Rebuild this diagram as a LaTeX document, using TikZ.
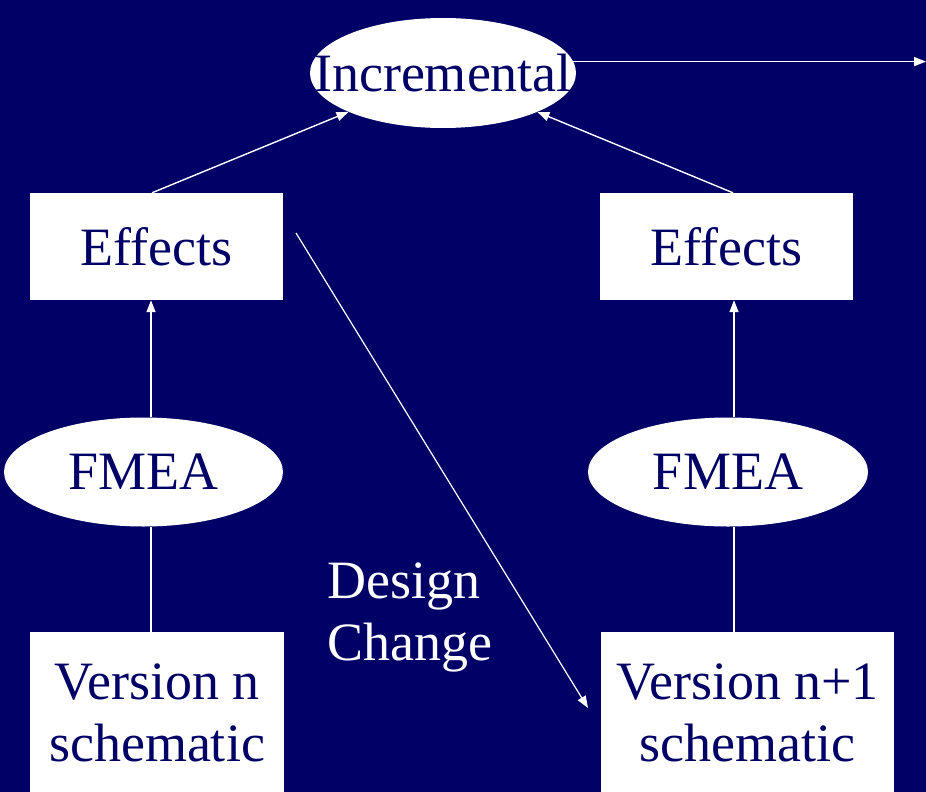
\documentclass[tikz,border=0pt]{standalone}
\usepackage{fontspec}
\setmainfont{Liberation Serif}
\usetikzlibrary{shapes.geometric,arrows.meta}
\definecolor{navy}{RGB}{0,0,102}
\begin{document}
\begin{tikzpicture}[x=1pt,y=-1pt,
  every node/.style={font=\fontsize{54}{62}\selectfont, text=navy, inner sep=0pt, align=center},
  box/.style={rectangle, fill=white},
  oval/.style={ellipse, fill=white},
  link/.style={draw=white, line width=1.4pt},
  arr/.style={link, -{Triangle[length=12pt,width=9pt]}},
  label/.style={text=white, align=left}]
  % background
  \fill[navy] (0,0) rectangle (926,792);
  \useasboundingbox (0,0) rectangle (926,792);

  % shapes
  \node[oval, inner xsep=-35pt, inner ysep=12pt, minimum width=266, minimum height=110] (inc) at (443,73) {Incremental};
  \node[box, minimum width=253, minimum height=107] (effL) at (156.5,246.5) {Effects};
  \node[box, minimum width=253, minimum height=107] (effR) at (726.5,246.5) {Effects};
  \node[oval, minimum width=279, minimum height=109] (fmeaL) at (143.5,472) {FMEA};
  \node[oval, minimum width=280, minimum height=109] (fmeaR) at (728,472) {FMEA};
  \node[box, minimum width=254, minimum height=161] (verL) at (157,712.5) {Version n\\schematic};
  \node[box, minimum width=293, minimum height=161] (verR) at (747.5,712.5) {Version n+1\\schematic};
  \node[label, anchor=base west] (dc) at (327,660) {Design\\Change};

  % free ends
  \coordinate (out) at (926,61);
  \coordinate (dcS) at (296,233);
  \coordinate (dcE) at (588,708);

  % connectors
  \draw[arr] (inc.5) -- (inc.5 -| out);
  \draw[arr] ([xshift=-4.5pt]effL.north) -- (inc);
  \draw[arr] ([xshift=6.5pt]effR.north) -- (inc);
  \draw[arr] ([xshift=-5.5pt]effL.south |- fmeaL.north) -- ([xshift=-5.5pt]effL.south);
  \draw[arr] ([xshift=7.5pt]effR.south |- fmeaR.north) -- ([xshift=7.5pt]effR.south);
  \draw[link] ([xshift=-5.5pt]effL.south |- verL.north) -- ([xshift=-5.5pt]effL.south |- fmeaL.south);
  \draw[link] ([xshift=7.5pt]effR.south |- verR.north) -- ([xshift=7.5pt]effR.south |- fmeaR.south);
  \draw[arr, line width=1.2pt] (dcS) -- (dcE);
\end{tikzpicture}
\end{document}
